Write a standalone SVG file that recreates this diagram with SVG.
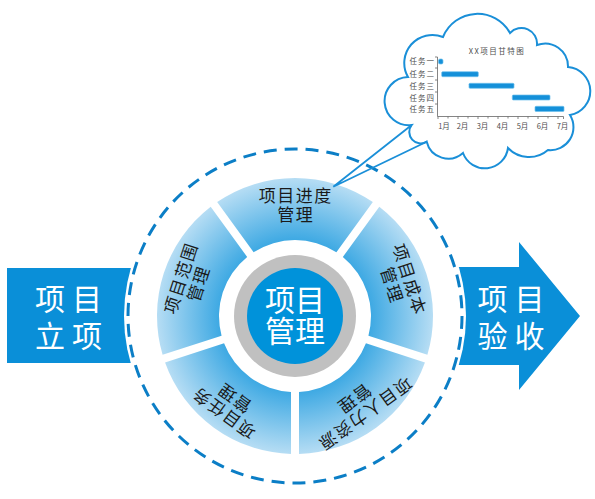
<svg xmlns="http://www.w3.org/2000/svg" width="595" height="499" viewBox="0 0 595 499">
<style>
.cjk { font-family: "Noto Sans CJK SC", "Noto Sans", sans-serif; }
.big { font-size: 30px; fill: #ffffff; text-anchor: middle; }
.boxt { letter-spacing: 7px; }
.seg { fill: url(#segGrad); }
.segt { font-size: 17px; fill: #1a1a1a; text-anchor: middle; letter-spacing: 1.5px; }
.ct { font-size: 7.5px; fill: #4d4d4d; }
.axis { stroke: #666666; stroke-width: 0.8; fill: none; }
.bar { fill: #1490d9; stroke: #6ec0ec; stroke-width: 0.7; }
.tail { stroke: #1a8fd8; stroke-width: 1.8; fill: none; }
</style>
<defs>
<radialGradient id="segGrad" gradientUnits="userSpaceOnUse" cx="0" cy="0" r="138">
<stop offset="0.55" stop-color="#3ea9e3"/>
<stop offset="1" stop-color="#b6ddf4"/>
</radialGradient>
</defs>
<rect width="595" height="499" fill="#ffffff"/>

<g id="node-start">
<rect x="7" y="268" width="150" height="95" fill="#0a8fd8"/>
<text class="cjk big boxt" x="72" y="310">项目</text>
<text class="cjk big boxt" x="72" y="346.5">立项</text>
</g>

<g id="node-accept">
<path d="M 440 267 L 519 267 L 519 242 L 580 316 L 519 390 L 519 365 L 440 365 Z" fill="#0a8fd8"/>
<text class="cjk big boxt" x="514.5" y="310">项目</text>
<text class="cjk big boxt" x="514.5" y="346.5">验收</text>
</g>

<g id="ring">
<circle cx="295" cy="316" r="171" fill="#ffffff"/>
<circle cx="295" cy="316" r="167" fill="none" stroke="#0b7ec6" stroke-width="3" stroke-dasharray="13 7.98"/>
</g>

<g id="seg-schedule" transform="translate(295,316)">
<path class="seg" d="M -77.847,-113.946 A 138 138 0 0 1 77.847,-113.946 L 41.375,-63.750 A 76 76 0 0 0 -41.375,-63.750 Z"/>
<text class="cjk segt" x="0.75" y="-114">项目进度</text>
<text class="cjk segt" x="0.75" y="-95.5">管理</text>
</g>
<g id="seg-cost" transform="translate(295,316) rotate(72)">
<path class="seg" d="M -77.847,-113.946 A 138 138 0 0 1 77.847,-113.946 L 41.375,-63.750 A 76 76 0 0 0 -41.375,-63.750 Z"/>
<text class="cjk segt" x="0.75" y="-114">项目成本</text>
<text class="cjk segt" x="0.75" y="-95.5">管理</text>
</g>
<g id="seg-hr" transform="translate(295,316) rotate(144)">
<path class="seg" d="M -77.847,-113.946 A 138 138 0 0 1 77.847,-113.946 L 41.375,-63.750 A 76 76 0 0 0 -41.375,-63.750 Z"/>
<text class="cjk segt" x="0.75" y="-114">项目人力资源</text>
<text class="cjk segt" x="0.75" y="-95.5">管理</text>
</g>
<g id="seg-task" transform="translate(295,316) rotate(216)">
<path class="seg" d="M -77.847,-113.946 A 138 138 0 0 1 77.847,-113.946 L 41.375,-63.750 A 76 76 0 0 0 -41.375,-63.750 Z"/>
<text class="cjk segt" x="0.75" y="-114">项目任务</text>
<text class="cjk segt" x="0.75" y="-95.5">管理</text>
</g>
<g id="seg-scope" transform="translate(295,316) rotate(288)">
<path class="seg" d="M -77.847,-113.946 A 138 138 0 0 1 77.847,-113.946 L 41.375,-63.750 A 76 76 0 0 0 -41.375,-63.750 Z"/>
<text class="cjk segt" x="0.75" y="-114">项目范围</text>
<text class="cjk segt" x="0.75" y="-95.5">管理</text>
</g>

<g id="node-center">
<circle cx="295" cy="316" r="61" fill="#c0c0c0"/>
<circle cx="295" cy="316" r="48" fill="#0092da"/>
<text class="cjk big" x="295" y="311">项目</text>
<text class="cjk big" x="295" y="342">管理</text>
</g>

<g id="node-gantt">
<path d="M 411.7 125 A 24.1 24.1 0 1 1 408 77 A 28.1 28.1 0 0 1 443 37 A 37.2 37.2 0 0 1 510 33 A 15.6 15.6 0 0 1 537 45 A 23 23 0 0 1 568 67 A 24.2 24.2 0 0 1 570 115 A 23 23 0 0 1 548 150 A 29 29 0 0 1 508 148 A 23.3 23.3 0 0 1 463 153 A 22.2 22.2 0 0 1 426.7 141.7 A 11.4 11.4 0 0 1 411.7 125 Z" fill="#ffffff" stroke="#1a8fd8" stroke-width="2"/>
<text class="cjk ct" x="497" y="54" text-anchor="middle" font-size="8.5" letter-spacing="1.5">XX项目甘特图</text>
<g class="cjk ct" text-anchor="end" letter-spacing="1">
<text x="435" y="64.3">任务一</text>
<text x="435" y="77.3">任务二</text>
<text x="435" y="89.3">任务三</text>
<text x="435" y="100.8">任务四</text>
<text x="435" y="112.3">任务五</text>
</g>
<path class="axis" d="M 437.5 57 L 437.5 116.5 L 563.5 116.5 M 435 57 L 437.5 57 M 435 68 L 437.5 68 M 435 80 L 437.5 80 M 435 92 L 437.5 92 M 435 104 L 437.5 104 M 438 116.5 L 438 119 M 448 116.5 L 448 118.5 M 458 116.5 L 458 119 M 468 116.5 L 468 118.5 M 478 116.5 L 478 119 M 488 116.5 L 488 118.5 M 498 116.5 L 498 119 M 508 116.5 L 508 118.5 M 518 116.5 L 518 119 M 528 116.5 L 528 118.5 M 538 116.5 L 538 119 M 548 116.5 L 548 118.5 M 558 116.5 L 558 119 M 563.5 116.5 L 563.5 119"/>
<g class="cjk ct" text-anchor="middle">
<text x="444" y="128.5">1月</text>
<text x="462.5" y="128.5">2月</text>
<text x="482.5" y="128.5">3月</text>
<text x="502.5" y="128.5">4月</text>
<text x="522.5" y="128.5">5月</text>
<text x="542.5" y="128.5">6月</text>
<text x="562.5" y="128.5">7月</text>
</g>
<rect class="bar" x="438.5" y="59" width="4.5" height="5" rx="1.5"/>
<rect class="bar" x="441.7" y="71.7" width="36.6" height="5" rx="1"/>
<rect class="bar" x="469" y="83.3" width="45" height="5" rx="1"/>
<rect class="bar" x="512.3" y="95" width="37.7" height="5" rx="1"/>
<rect class="bar" x="535" y="106.3" width="29" height="5.2" rx="1"/>
</g>

<g id="connectors">
<path class="tail" d="M 411.7 125 L 333.3 186.7 L 426.7 141.7"/>
</g>
</svg>
